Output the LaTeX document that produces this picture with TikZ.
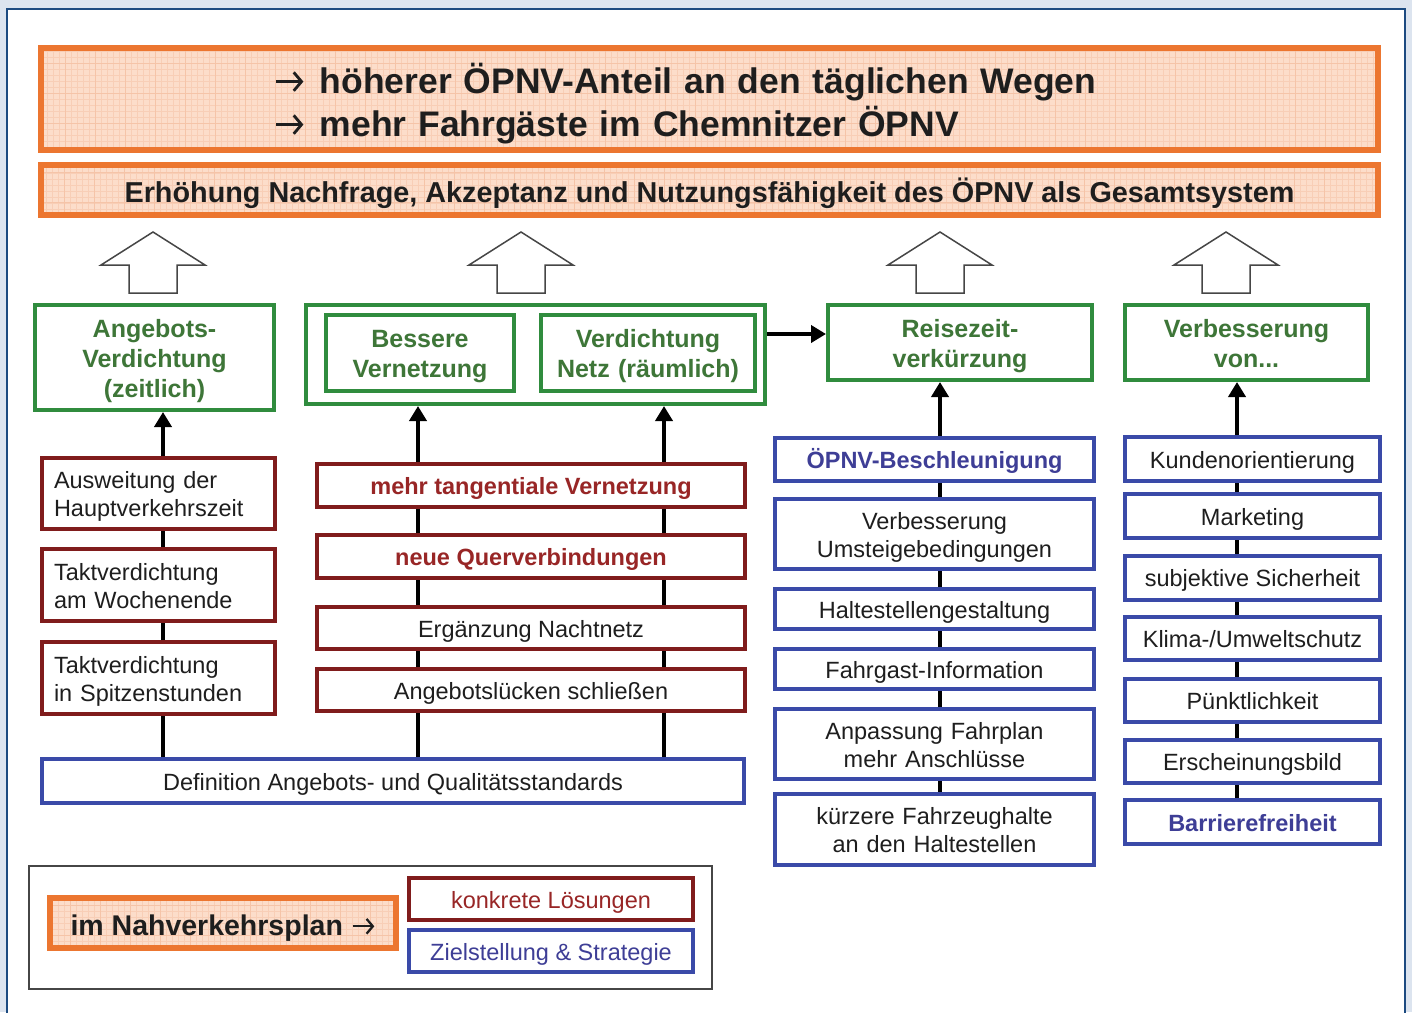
\documentclass[tikz,border=0pt]{standalone}
\usepackage{fontspec}
\setmainfont{Liberation Sans}
\usetikzlibrary{positioning,arrows.meta}

\definecolor{bgC}{RGB}{220,228,239}
\definecolor{panelC}{RGB}{28,74,128}
\definecolor{orangeC}{RGB}{236,118,48}
\definecolor{peachC}{RGB}{252,221,202}
\definecolor{gridC}{RGB}{245,196,168}
\definecolor{greenC}{RGB}{48,140,62}
\definecolor{greenT}{RGB}{62,118,56}
\definecolor{redC}{RGB}{128,28,28}
\definecolor{redT}{RGB}{152,38,38}
\definecolor{blueC}{RGB}{58,74,168}
\definecolor{blueT}{RGB}{62,62,150}
\definecolor{inkC}{RGB}{30,30,30}
\definecolor{frameC}{RGB}{70,70,70}

% chevron arrow as in the slide
\newcommand\chevarrow{\tikz[baseline=0pt]\draw[draw=inkC, line width=0.08em, -{Straight Barb[length=0.22em, width=0.52em]}] (0pt,0.33em) -- (0.76em,0.33em);}

\begin{document}
\begin{tikzpicture}[x=1pt, y=-1pt,
    every node/.style={execute at begin node={\rule{0pt}{1em}}, execute at end node={\rule[-0.22em]{0pt}{0pt}}},
    goal/.style={rectangle, draw=orangeC, line width=6pt, fill=peachC, text=inkC,
        execute at begin node={\rule{0pt}{1.11em}},
        path picture={
            \draw[gridC!60!peachC, line width=0.4pt] (path picture bounding box.south west) grid[step=6pt] (path picture bounding box.north east);
            \draw[gridC, line width=0.7pt] (path picture bounding box.south west) grid[step=30pt] (path picture bounding box.north east);},
        font=\bfseries\fontsize{35.5}{43}\selectfont},
    aim/.style={rectangle, draw=greenC, line width=4pt, fill=white, text=greenT, align=center, inner xsep=8pt,
        font=\bfseries\fontsize{25}{30}\selectfont},
    sol/.style={rectangle, draw=redC, line width=4pt, fill=white, text=inkC, align=center, inner xsep=8pt,
        font=\fontsize{23.5}{28}\selectfont},
    solkey/.style={sol, text=redT, font=\bfseries\fontsize{23.5}{28}\selectfont},
    strat/.style={rectangle, draw=blueC, line width=4pt, fill=white, text=inkC, align=center, inner xsep=8pt,
        font=\fontsize{23.5}{28}\selectfont},
    stratkey/.style={strat, text=blueT, font=\bfseries\fontsize{23.5}{28}\selectfont},
    hollow/.style={draw=frameC, line width=1.5pt, fill=white, line join=miter},
    link/.style={draw=black, line width=4pt},
    uplink/.style={link, -{Triangle[length=15pt, width=17pt]}}
]

% Background panel
\useasboundingbox (0,0) rectangle (1412,1012);
\fill[bgC] (0,0) rectangle (1412,1012);
\filldraw[fill=white, draw=panelC, line width=2.5pt] (7,9) rectangle (1405,1040);

% Goals
\node[goal, text width=869pt, inner xsep=234pt, minimum height=102pt, align=left] (goal) at (709.5,99)
    {\chevarrow\hspace{0.42em}höherer ÖPNV-Anteil an den täglichen Wegen\\\chevarrow\hspace{0.42em}mehr Fahrgäste im Chemnitzer ÖPNV};
\node[goal, minimum width=1337pt, minimum height=50pt, font=\bfseries\fontsize{28.8}{32}\selectfont] (demand) at (709.5,190)
    {Erhöhung Nachfrage, Akzeptanz und Nutzungsfähigkeit des ÖPNV als Gesamtsystem};

% Block arrows
\foreach \x in {153,521,940,1226}
    \draw[hollow] (\x,232) -- ++(52,33) -- ++(-28,0) -- ++(0,28) -- ++(-48,0) -- ++(0,-28) -- ++(-28,0) -- cycle;

% Aims
\node[aim, text width=223pt, minimum height=105pt] (zeit) at (154.5,357.5) {Angebots-\\Verdichtung\\(zeitlich)};
\node[aim, minimum width=459pt, minimum height=99pt] (netz) at (535.5,354.5) {};
\node[aim, text width=172pt, minimum height=76pt] (vernetz) at (420,353) {Bessere\\Vernetzung};
\node[aim, text width=198pt, minimum height=76pt] (raum) at (648,353) {Verdichtung\\Netz (räumlich)};
\node[aim, text width=248pt, minimum height=75pt] (reise) at (960,342.5) {Reisezeit-\\verkürzung};
\node[aim, text width=227pt, minimum height=75pt] (verb) at (1246.5,342.5) {Verbesserung\\von...};

% Solutions: Angebot
\node[sol, text width=209pt, inner xsep=12pt, minimum height=71pt, align=left] (hvz) at (158.5,493.5) {Ausweitung der\\Hauptverkehrszeit};
\node[sol, text width=209pt, inner xsep=12pt, minimum height=72pt, align=left] (woche) at (158.5,585) {Taktverdichtung\\am Wochenende};
\node[sol, text width=209pt, inner xsep=12pt, minimum height=72pt, align=left] (spitze) at (158.5,678) {Taktverdichtung\\in Spitzenstunden};

% Solutions: Netz
\node[solkey, minimum width=428pt, minimum height=43pt] (tang) at (531,485.5) {mehr tangentiale Vernetzung};
\node[solkey, minimum width=428pt, minimum height=43pt] (quer) at (531,556.5) {neue Querverbindungen};
\node[sol, minimum width=428pt, minimum height=42pt] (nacht) at (531,628) {Ergänzung Nachtnetz};
\node[sol, minimum width=428pt, minimum height=42pt] (luecken) at (531,690) {Angebotslücken schließen};
\node[strat, minimum width=702pt, minimum height=44pt] (def) at (393,781) {Definition Angebots- und Qualitätsstandards};

% Strategies: Reisezeit
\node[stratkey, minimum width=319pt, minimum height=43pt] (besch) at (934.5,459.5) {ÖPNV-Beschleunigung};
\node[strat, text width=303pt, minimum height=70pt] (umst) at (934.5,534) {Verbesserung\\Umsteigebedingungen};
\node[strat, minimum width=319pt, minimum height=40pt] (halte) at (934.5,609) {Haltestellengestaltung};
\node[strat, minimum width=319pt, minimum height=40pt] (info) at (934.5,669) {Fahrgast-Information};
\node[strat, text width=303pt, minimum height=70pt] (fplan) at (934.5,744) {Anpassung Fahrplan\\mehr Anschlüsse};
\node[strat, text width=303pt, minimum height=71pt] (kurz) at (934.5,829.5) {kürzere Fahrzeughalte\\an den Haltestellen};

% Strategies: Verbesserung
\node[strat, minimum width=255pt, minimum height=44pt] (kunde) at (1252.5,459) {Kundenorientierung};
\node[strat, minimum width=255pt, minimum height=44pt] (market) at (1252.5,516) {Marketing};
\node[strat, minimum width=255pt, minimum height=44pt] (sicher) at (1252.5,577.5) {subjektive Sicherheit};
\node[strat, minimum width=255pt, minimum height=43pt] (klima) at (1252.5,638.5) {Klima-/Umweltschutz};
\node[strat, minimum width=255pt, minimum height=43pt] (puenkt) at (1252.5,700) {Pünktlichkeit};
\node[strat, minimum width=255pt, minimum height=43pt] (bild) at (1252.5,761) {Erscheinungsbild};
\node[stratkey, minimum width=255pt, minimum height=44pt] (barriere) at (1252.5,822) {Barrierefreiheit};

% Connectors
\coordinate (c1) at (163,0);
\coordinate (c2) at (418,0);
\coordinate (c2b) at (664,0);
\coordinate (c3) at (940,0);
\coordinate (c4) at (1237,0);
\coordinate (hz) at (0,334);

\foreach \a/\b in {def/spitze, spitze/woche, woche/hvz}
    \draw[link] (\a.north -| c1) -- (\b.south -| c1);
\draw[uplink] (hvz.north -| c1) -- (zeit.south -| c1);

\foreach \c in {c2,c2b} {
    \foreach \a/\b in {def/luecken, luecken/nacht, nacht/quer, quer/tang}
        \draw[link] (\a.north -| \c) -- (\b.south -| \c);
    \draw[uplink] (tang.north -| \c) -- (netz.south -| \c);
}

\foreach \a/\b in {kurz/fplan, fplan/info, info/halte, halte/umst, umst/besch}
    \draw[link] (\a.north -| c3) -- (\b.south -| c3);
\draw[uplink] (besch.north -| c3) -- (reise.south -| c3);

\foreach \a/\b in {barriere/bild, bild/puenkt, puenkt/klima, klima/sicher, sicher/market, market/kunde}
    \draw[link] (\a.north -| c4) -- (\b.south -| c4);
\draw[uplink] (kunde.north -| c4) -- (verb.south -| c4);

\draw[uplink] (netz.east |- hz) -- (reise.west |- hz);

% Legend
\node[draw=frameC, line width=1.5pt, minimum width=683pt, minimum height=123pt] (legend) at (370.5,927.5) {};
\node[goal, minimum width=346pt, minimum height=50pt, execute at begin node={\rule{0pt}{1em}},
    font=\bfseries\fontsize{28.5}{32}\selectfont] (plan) at (223,923) {im Nahverkehrsplan\hspace{0.3em}\chevarrow};
\node[sol, minimum width=284pt, minimum height=42pt, text=redT] (konkret) at (551,899) {konkrete Lösungen};
\node[strat, minimum width=284pt, minimum height=42pt, text=blueT] (ziel) at (551,951) {Zielstellung \& Strategie};

\end{tikzpicture}
\end{document}
